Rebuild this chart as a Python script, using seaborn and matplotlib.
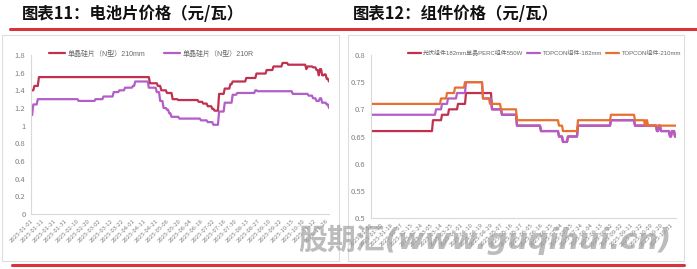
import numpy as np
import pandas as pd
import matplotlib
matplotlib.use("Agg")
import matplotlib.pyplot as plt
from matplotlib.patches import Rectangle
from matplotlib.lines import Line2D
from matplotlib.font_manager import FontProperties
import seaborn as sns

sns.set_theme(style="white")
plt.rcParams['font.family'] = ['Noto Sans CJK SC', 'DejaVu Sans']
plt.rcParams['axes.unicode_minus'] = False

# ---------------- data: chart 11 (cell prices, yuan/W) ----------------
cell_labels = ["2025-01-01", "2025-01-11", "2025-01-21", "2025-01-31", "2025-02-10",
               "2025-02-20", "2025-03-02", "2025-03-12", "2025-03-22", "2025-04-01",
               "2025-04-11", "2025-04-21", "2025-05-06", "2025-05-20", "2025-06-04",
               "2025-06-18", "2025-07-02", "2025-07-16", "2025-07-30", "2025-08-13",
               "2025-08-27", "2025-09-10", "2025-09-22", "2025-10-15", "2025-10-30",
               "2025-11-12", "2025-11-26"]
cell_names = ["单晶硅片（N型）210mm", "单晶硅片（N型）210R"]
# step series stored as (value, number of consecutive observations)
cell_210mm_vals = [1.40, 1.45, 1.55, 1.48, 1.45, 1.40, 1.37, 1.30, 1.29, 1.27, 1.25, 1.22,
                   1.19, 1.17, 1.36, 1.42, 1.47, 1.50, 1.54, 1.59, 1.63, 1.67, 1.71, 1.69,
                   1.64, 1.67, 1.66, 1.63, 1.57, 1.64, 1.57, 1.58, 1.53, 1.50]
cell_210mm_runs = [3, 4, 98, 7, 3, 5, 5, 5, 18, 4, 4, 4,
                   2, 4, 5, 5, 2, 12, 9, 9, 6, 8, 5, 16,
                   1, 5, 3, 2, 1, 2, 2, 2, 2, 1]
cell_210r_vals = [1.12, 1.24, 1.30, 1.28, 1.30, 1.33, 1.38, 1.40, 1.43, 1.45, 1.50, 1.43,
                  1.38, 1.28, 1.20, 1.18, 1.14, 1.10, 1.08, 1.06, 1.04, 1.01, 1.16, 1.26,
                  1.35, 1.37, 1.40, 1.39, 1.36, 1.34, 1.31, 1.28, 1.31, 1.26, 1.24, 1.20]
cell_210r_runs = [2, 4, 36, 15, 7, 9, 5, 5, 7, 2, 12, 7,
                  3, 3, 3, 2, 2, 7, 19, 6, 5, 5, 5, 7,
                  4, 16, 2, 31, 14, 4, 3, 3, 2, 4, 2, 1]

# ---------------- data: chart 12 (module prices, yuan/W) ----------------
mod_labels = ["2025-01-02", "2025-01-10", "2025-01-18", "2025-02-07", "2025-02-15",
              "2025-02-24", "2025-03-05", "2025-03-14", "2025-03-25", "2025-04-01",
              "2025-04-10", "2025-04-19", "2025-04-29", "2025-05-07", "2025-05-16",
              "2025-05-27", "2025-06-05", "2025-06-16", "2025-06-25", "2025-07-04",
              "2025-07-15", "2025-07-24", "2025-08-04", "2025-08-13", "2025-08-22",
              "2025-09-02", "2025-09-11", "2025-09-22", "2025-10-09", "2025-10-20",
              "2025-10-31"]
mod_names = ["光伏组件182mm单晶PERC组件550W", "TOPCON组件-182mm", "TOPCON组件-210mm"]
perc_vals = [0.66, 0.68, 0.69, 0.70, 0.71, 0.73, 0.70, 0.69, 0.67, 0.66, 0.65, 0.64,
             0.65, 0.67, 0.68, 0.67, 0.66, 0.67, 0.66, 0.65, 0.66, 0.65]
perc_runs = [62, 9, 7, 9, 8, 26, 10, 15, 24, 18, 4, 5,
             10, 33, 24, 22, 2, 2, 9, 2, 3, 2]
topcon182_vals = [0.69, 0.70, 0.71, 0.72, 0.73, 0.75, 0.72, 0.70, 0.69, 0.67, 0.66, 0.65,
                  0.64, 0.65, 0.67, 0.68, 0.67, 0.66, 0.67, 0.66, 0.65, 0.66, 0.65]
topcon182_runs = [65, 6, 6, 9, 9, 17, 9, 10, 15, 24, 18, 4,
                  5, 10, 33, 24, 22, 2, 2, 9, 2, 3, 2]
topcon210_vals = [0.71, 0.72, 0.73, 0.74, 0.75, 0.72, 0.71, 0.70, 0.68, 0.67, 0.66, 0.68,
                  0.69, 0.68, 0.67, 0.68, 0.67]
topcon210_runs = [70, 6, 8, 10, 18, 7, 11, 16, 42, 4, 15, 33,
                  24, 10, 1, 2, 29]

RED = "#C0304F"
PURPLE = "#B25DC8"
ORANGE = "#E8702F"
GRID_GRAY = "#D9D9D9"
TICK_GRAY = "#808080"
BAND_RED = "#D8333C"


def expand(vals, runs):
    return np.repeat(np.asarray(vals, float), runs)


cell_df = pd.concat([
    pd.DataFrame({"idx": np.arange(sum(cell_210mm_runs)),
                  "price": expand(cell_210mm_vals, cell_210mm_runs), "series": cell_names[0]}),
    pd.DataFrame({"idx": np.arange(sum(cell_210r_runs)),
                  "price": expand(cell_210r_vals, cell_210r_runs), "series": cell_names[1]}),
])
mod_df = pd.concat([
    pd.DataFrame({"idx": np.arange(sum(perc_runs)),
                  "price": expand(perc_vals, perc_runs), "series": mod_names[0]}),
    pd.DataFrame({"idx": np.arange(sum(topcon182_runs)),
                  "price": expand(topcon182_vals, topcon182_runs), "series": mod_names[1]}),
    pd.DataFrame({"idx": np.arange(sum(topcon210_runs)),
                  "price": expand(topcon210_vals, topcon210_runs), "series": mod_names[2]}),
])

W, H = 697, 269
fig = plt.figure(figsize=(W / 100, H / 100), dpi=100)


def fx(px):
    return px / W


def fy(py):
    return 1 - py / H


# panel frames
for x0, x1 in [(2, 339), (348, 684)]:
    fig.patches.append(Rectangle((fx(x0), fy(261)), fx(x1 - x0), fy(35) - fy(261),
                                 transform=fig.transFigure, fill=False,
                                 edgecolor="#DDDDDD", linewidth=0.8))
# red separator lines
fig.lines.append(Line2D([fx(10), fx(697)], [fy(28.5), fy(28.5)], transform=fig.transFigure,
                        color=BAND_RED, linewidth=2.2))
fig.lines.append(Line2D([fx(12), fx(684)], [fy(265), fy(265)], transform=fig.transFigure,
                        color=BAND_RED, linewidth=2.2))

# titles
fig.text(fx(22), fy(14), "图表11：电池片价格（元/瓦）", fontsize=11.8, fontweight="bold",
         va="center", ha="left", color="#111111")
fig.text(fx(353), fy(14), "图表12：组件价格（元/瓦）", fontsize=11.8, fontweight="bold",
         va="center", ha="left", color="#111111")

# ---------- left axes ----------
ax1 = fig.add_axes([fx(31), fy(214), fx(329 - 31), fy(55) - fy(214)])
sns.lineplot(data=cell_df, x="idx", y="price", hue="series", palette=[RED, PURPLE],
             linewidth=1.6, ax=ax1)
ax1.set_xlim(0, sum(cell_210mm_runs) - 1)
ax1.set_ylim(0, 1.8)
ax1.set_yticks(np.arange(0, 1.81, 0.2))
ax1.set_yticklabels(["0", "0.2", "0.4", "0.6", "0.8", "1", "1.2", "1.4", "1.6", "1.8"])
ax1.set_xticks(np.arange(len(cell_labels)) * 10)
ax1.set_xticklabels(cell_labels, rotation=45, ha="right", rotation_mode="anchor")
ax1.legend(loc="center left", bbox_to_anchor=(0.05, 1.006), ncol=2, frameon=False,
           prop=FontProperties(family=["Liberation Sans", "Noto Sans CJK SC"], size=5),
           handlelength=2.3, handletextpad=0.4, columnspacing=2.6, borderpad=0,
           labelcolor="#666666")

# ---------- right axes ----------
ax2 = fig.add_axes([fx(371), fy(218), fx(676 - 371), fy(55) - fy(218)])
sns.lineplot(data=mod_df, x="idx", y="price", hue="series", palette=[RED, PURPLE, ORANGE],
             linewidth=1.6, ax=ax2)
ax2.set_xlim(0, sum(topcon210_runs) - 1)
ax2.set_ylim(0.5, 0.8)
ax2.set_yticks([0.5, 0.55, 0.6, 0.65, 0.7, 0.75, 0.8])
ax2.set_yticklabels(["0.5", "0.55", "0.6", "0.65", "0.7", "0.75", "0.8"])
ax2.set_xticks(np.arange(len(mod_labels)) * 10)
ax2.set_xticklabels(mod_labels, rotation=45, ha="right", rotation_mode="anchor")
ax2.legend(loc="center right", bbox_to_anchor=((681 - 371) / 305, 1.012), ncol=3,
           frameon=False,
           prop=FontProperties(family=["Liberation Sans", "Noto Sans CJK SC"], size=4.3),
           handlelength=2.2, handletextpad=0.35, columnspacing=0.7,
           borderpad=0, borderaxespad=0, labelcolor="#666666")

for ax in (ax1, ax2):
    ax.set_xlabel("")
    ax.set_ylabel("")
    ax.set_facecolor("none")
    for s in ("top", "right"):
        ax.spines[s].set_visible(False)
    for s in ("left", "bottom"):
        ax.spines[s].set_color(GRID_GRAY)
        ax.spines[s].set_linewidth(0.8)
    ax.tick_params(axis="y", labelsize=5.5, colors=TICK_GRAY, length=0, pad=4)
    ax.tick_params(axis="x", labelsize=4.3, colors=TICK_GRAY, length=0, pad=3)
    ax.grid(False)

# watermark
fig.text(fx(298), fy(240), "股期汇(www.guqihui.cn)", fontsize=20.8, fontweight="bold",
         fontstyle="italic", family=["DejaVu Sans", "Noto Sans CJK SC"],
         color="#A0A0A0", alpha=0.7, va="center", ha="left")

fig.savefig("out.png", dpi=100)
